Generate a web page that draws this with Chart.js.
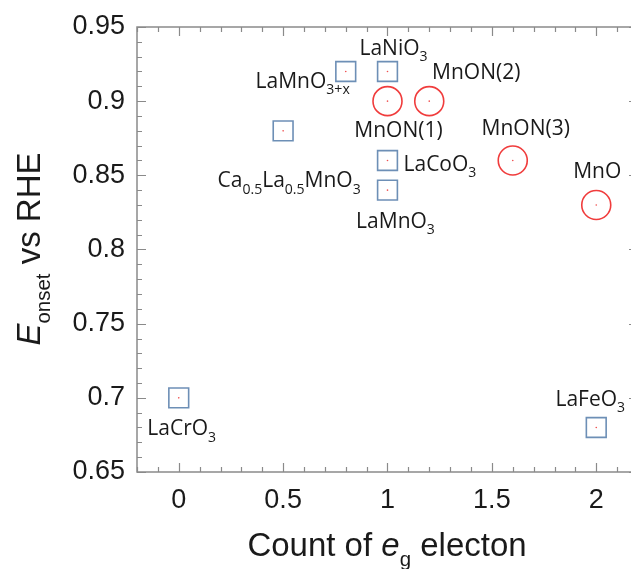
<!DOCTYPE html>
<html>
<head>
<meta charset="utf-8">
<script src="https://cdn.jsdelivr.net/npm/chart.js@4"></script>
<style>
  html, body { margin: 0; padding: 0; background: #fff; overflow: hidden; }
  #wrap { width: 640px; height: 569px; }
</style>
</head>
<body>
<div id="wrap"><canvas id="eg" width="640" height="569"></canvas></div>
<script>
// tick labels
const xTicks = [0, 0.5, 1, 1.5, 2];
const yTicks = [0.65, 0.7, 0.75, 0.8, 0.85, 0.9, 0.95];

// perovskites (blue squares)
const perovNames = ["LaCrO_3", "Ca_{0.5}La_{0.5}MnO_3", "LaMnO_{3+x}", "LaNiO_3", "LaCoO_3", "LaMnO_3", "LaFeO_3"];
const perovEg = [0, 0.5, 0.8, 1, 1, 1, 2];
const perovE = [0.70, 0.88, 0.92, 0.92, 0.86, 0.84, 0.68];

// manganese oxynitrides (red circles)
const mnonNames = ["MnON(1)", "MnON(2)", "MnON(3)", "MnO"];
const mnonEg = [1, 1.2, 1.6, 2];
const mnonE = [0.90, 0.90, 0.86, 0.83];

// where each label sits relative to its marker: dx, dy (cap centre), align
const labelPos = {
  "LaCrO_3": [3, 30, "center"],
  "Ca_{0.5}La_{0.5}MnO_3": [6, 49, "center"],
  "LaMnO_{3+x}": [4, 9, "right"],
  "LaNiO_3": [6, -24, "center"],
  "LaCoO_3": [16, 3, "left"],
  "LaMnO_3": [8, 30, "center"],
  "LaFeO_3": [-6, -29, "center"],
  "MnON(1)": [11, 28, "center"],
  "MnON(2)": [47, -30, "center"],
  "MnON(3)": [13, -33, "center"],
  "MnO": [1, -34, "center"]
};

const LABEL_FONT = '"Open Sans", sans-serif';
const AXIS_FONT = '"Liberation Sans", Arial, sans-serif';

function parseRich(str) {
  const segs = [];
  let i = 0, buf = "";
  while (i < str.length) {
    if (str[i] === "_") {
      if (buf) { segs.push({ t: buf, sub: false }); buf = ""; }
      if (str[i + 1] === "{") {
        const j = str.indexOf("}", i);
        segs.push({ t: str.slice(i + 2, j), sub: true });
        i = j + 1;
      } else {
        segs.push({ t: str[i + 1], sub: true });
        i += 2;
      }
    } else {
      buf += str[i];
      i++;
    }
  }
  if (buf) segs.push({ t: buf, sub: false });
  return segs;
}

// draws text with subscripts; y is the main baseline
function drawRich(ctx, segs, x, y, size, align, family, subScale) {
  const fontOf = (s) => {
    const sz = s.sub ? size * subScale : size;
    return (s.it ? "italic " : "") + sz + "px " + family;
  };
  let total = 0;
  segs.forEach((s) => { ctx.font = fontOf(s); total += ctx.measureText(s.t).width; });
  let cx = align === "center" ? x - total / 2 : align === "right" ? x - total : x;
  ctx.textAlign = "left";
  ctx.textBaseline = "alphabetic";
  segs.forEach((s) => {
    ctx.font = fontOf(s);
    ctx.fillText(s.t, cx, s.sub ? y + size * 0.3 : y);
    cx += ctx.measureText(s.t).width;
  });
}

const framePlugin = {
  id: "frame",
  afterDatasetsDraw(chart) {
    const { ctx, chartArea: a, scales: { x, y } } = chart;
    ctx.save();
    ctx.strokeStyle = "#8a8a8a";
    ctx.lineWidth = 1.5;
    ctx.strokeRect(a.left, a.top, a.right - a.left, a.bottom - a.top);
    ctx.lineWidth = 1.2;
    ctx.beginPath();
    for (let k = -2; k <= 22; k++) {
      const v = k / 10;
      const px = Math.round(x.getPixelForValue(v)) + 0.5;
      const len = k % 5 === 0 ? 9 : 5;
      ctx.moveTo(px, a.bottom); ctx.lineTo(px, a.bottom - len);
      ctx.moveTo(px, a.top); ctx.lineTo(px, a.top + len);
    }
    for (let k = 65; k <= 95; k++) {
      const v = k / 100;
      const py = Math.round(y.getPixelForValue(v)) + 0.5;
      const len = k % 5 === 0 ? 9 : 5;
      ctx.moveTo(a.left, py); ctx.lineTo(a.left + len, py);
      ctx.moveTo(a.right, py); ctx.lineTo(a.right - len, py);
    }
    ctx.stroke();

    // point labels
    ctx.fillStyle = "#1a1a1a";
    const put = (names, xs, ys) => names.forEach((n, i) => {
      const p = labelPos[n];
      const px = x.getPixelForValue(xs[i]) + p[0];
      const capCentre = y.getPixelForValue(ys[i]) + p[1];
      drawRich(ctx, parseRich(n), px, capCentre + 21 * 0.357, 21, p[2], LABEL_FONT, 0.67);
    });
    put(perovNames, perovEg, perovE);
    put(mnonNames, mnonEg, mnonE);
    ctx.restore();
  },
  afterDraw(chart) {
    const { ctx } = chart;
    ctx.save();
    ctx.fillStyle = "#1a1a1a";
    // x title
    drawRich(ctx, [{ t: "Count of ", sub: false }, { t: "e", sub: false, it: true }, { t: "g", sub: true }, { t: " electon", sub: false }],
      387, 556, 33, "center", AXIS_FONT, 0.62);
    ctx.restore();
    ctx.save();
    ctx.fillStyle = "#1a1a1a";
    ctx.translate(40, 249);
    ctx.rotate(-Math.PI / 2);
    drawRich(ctx, [{ t: "E", sub: false, it: true }, { t: "onset", sub: true }, { t: " vs RHE", sub: false }],
      0, 0, 33, "center", AXIS_FONT, 0.62);
    ctx.restore();
  }
};

const toPts = (xs, ys) => xs.map((v, i) => ({ x: v, y: ys[i] }));

new Chart(document.getElementById("eg"), {
  type: "scatter",
  data: {
    datasets: [
      {
        label: "perovskite",
        data: toPts(perovEg, perovE),
        pointStyle: "rect",
        pointRadius: 14,
        pointHoverRadius: 14,
        borderColor: "#6d8fb6",
        backgroundColor: "rgba(0,0,0,0)",
        pointBorderWidth: 1.6
      },
      {
        label: "MnON",
        data: toPts(mnonEg, mnonE),
        pointStyle: "circle",
        pointRadius: 14.5,
        pointHoverRadius: 14.5,
        borderColor: "#f03c3c",
        backgroundColor: "rgba(0,0,0,0)",
        pointBorderWidth: 1.6
      },
      {
        label: "centre",
        data: toPts(perovEg.concat(mnonEg), perovE.concat(mnonE)),
        pointStyle: "circle",
        pointRadius: 0.8,
        borderWidth: 0,
        backgroundColor: "#f05050"
      }
    ]
  },
  options: {
    responsive: false,
    animation: false,
    events: [],
    layout: { autoPadding: false, padding: { top: 27, right: 2, left: 0, bottom: 0 } },
    plugins: { legend: { display: false }, tooltip: { enabled: false } },
    scales: {
      x: {
        type: "linear",
        min: -0.2,
        max: 2.2,
        afterFit: (s) => { s.height = 97; },
        afterBuildTicks: (s) => { s.ticks = xTicks.map((v) => ({ value: v })); },
        grid: { display: false, drawTicks: false },
        border: { display: false },
        ticks: {
          padding: 12,
          color: "#1a1a1a",
          font: { family: AXIS_FONT, size: 27 },
          callback: (v) => String(v)
        }
      },
      y: {
        type: "linear",
        min: 0.65,
        max: 0.95,
        afterFit: (s) => { s.width = 137; },
        afterBuildTicks: (s) => { s.ticks = yTicks.map((v) => ({ value: v })); },
        grid: { display: false, drawTicks: false },
        border: { display: false },
        ticks: {
          padding: 12,
          color: "#1a1a1a",
          font: { family: AXIS_FONT, size: 27, lineHeight: 1 },
          callback: (v) => String(v)
        }
      }
    }
  },
  plugins: [framePlugin]
});
</script>
</body>
</html>
